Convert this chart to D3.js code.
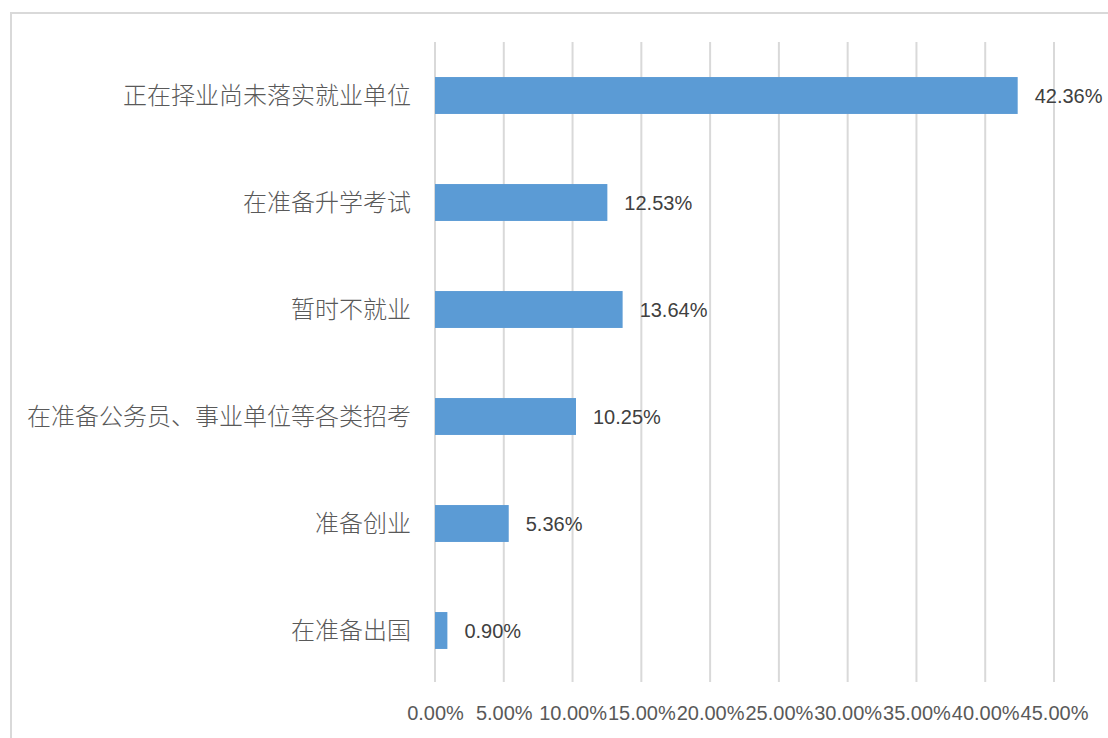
<!DOCTYPE html>
<html>
<head>
<meta charset="utf-8">
<script src="https://cdn.jsdelivr.net/npm/d3@7/dist/d3.min.js"></script>
<style>
  html, body { margin: 0; padding: 0; background: #fff; overflow: hidden; }
  svg { display: block; }
</style>
</head>
<body>
<svg id="chart" width="1108" height="738"></svg>
<script>
const categories = ["正在择业尚未落实就业单位", "在准备升学考试", "暂时不就业", "在准备公务员、事业单位等各类招考", "准备创业", "在准备出国"];
const values = [42.36, 12.53, 13.64, 10.25, 5.36, 0.90];
const tickValues = [0, 5, 10, 15, 20, 25, 30, 35, 40, 45];

const svg = d3.select("#chart");
const W = 1108, H = 738;

// outer frame
svg.append("rect")
  .attr("x", 11).attr("y", 13)
  .attr("width", W + 40).attr("height", H + 40)
  .attr("fill", "#fff")
  .attr("stroke", "#d9d9d9").attr("stroke-width", 2);

const x = d3.scaleLinear().domain([0, 45]).range([435, 1054]);
const y = d3.scaleBand().domain(categories).range([42, 684]).paddingInner(0.655).paddingOuter(0.3275);

// gridlines
svg.append("g").selectAll("line").data(tickValues).join("line")
  .attr("x1", d => x(d)).attr("x2", d => x(d))
  .attr("y1", 42).attr("y2", 682)
  .attr("stroke", "#d9d9d9").attr("stroke-width", 2);

// x tick labels
const xAxis = d3.axisBottom(x).tickValues(tickValues).tickFormat(d => d.toFixed(2) + "%").tickSize(0).tickPadding(0);
const gx = svg.append("g").attr("transform", "translate(0,713)").call(xAxis);
gx.select(".domain").remove();
gx.selectAll("text")
  .attr("dy", "0.35em")
  .attr("fill", "#595959")
  .style("font-family", "'Liberation Sans', Arial, sans-serif")
  .style("font-size", "20px");

// y category labels
const yAxis = d3.axisLeft(y).tickSize(0).tickPadding(0);
const gy = svg.append("g").attr("transform", "translate(411,0)").call(yAxis);
gy.select(".domain").remove();
gy.selectAll("text")
  .attr("dy", "0.36em")
  .attr("fill", "#595959")
  .style("font-family", "'Noto Sans CJK SC', sans-serif")
  .style("font-weight", "300")
  .style("font-size", "24px");

// bars
svg.append("g").selectAll("rect").data(categories).join("rect")
  .attr("x", x(0))
  .attr("y", d => y(d))
  .attr("width", (d, i) => x(values[i]) - x(0))
  .attr("height", y.bandwidth())
  .attr("fill", "#5b9bd5");

// data labels
svg.append("g").selectAll("text").data(categories).join("text")
  .attr("x", (d, i) => x(values[i]) + 17)
  .attr("y", d => y(d) + y.bandwidth() / 2)
  .attr("dy", "0.36em")
  .attr("fill", "#404040")
  .style("font-family", "'Liberation Sans', Arial, sans-serif")
  .style("font-size", "20px")
  .text((d, i) => values[i].toFixed(2) + "%");
</script>
</body>
</html>
